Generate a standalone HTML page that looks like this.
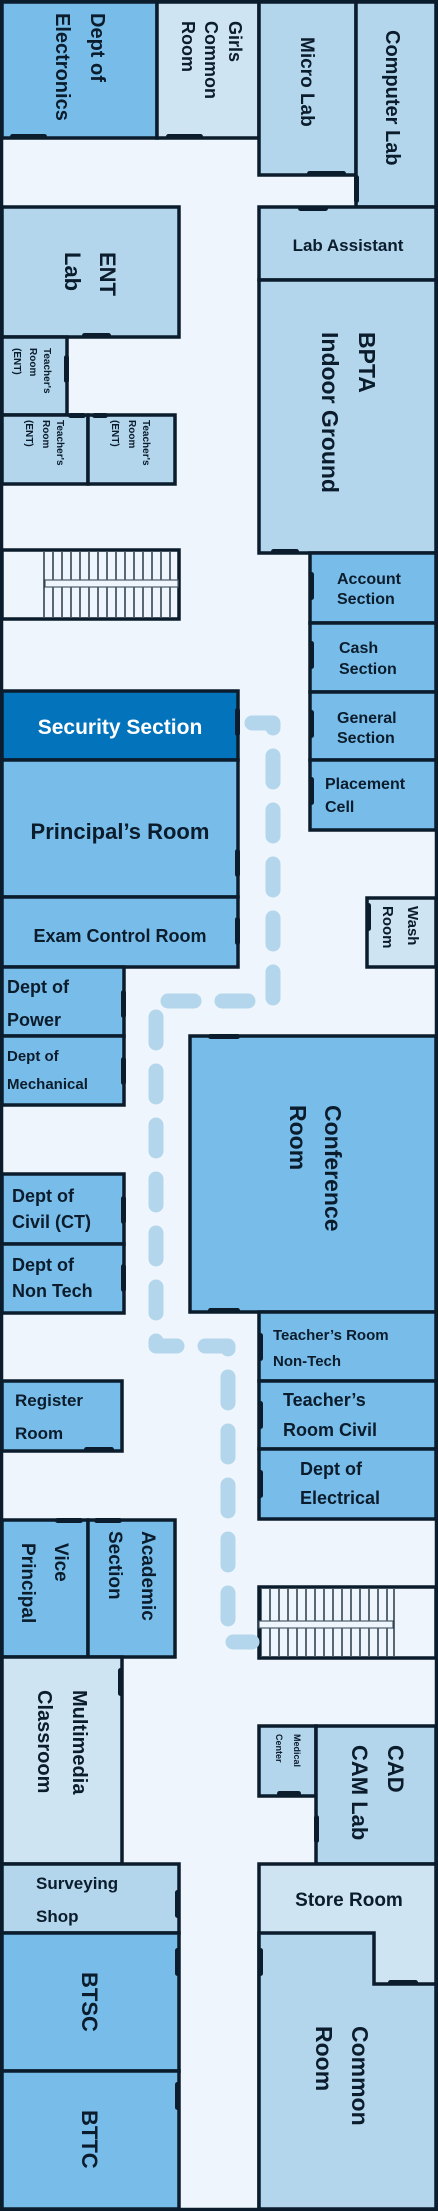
<!DOCTYPE html>
<html><head><meta charset="utf-8"><style>
html,body{margin:0;padding:0;background:#eef5fc;}
svg{display:block}
text{font-family:"Liberation Sans",sans-serif;font-weight:bold;fill:#0b1c2c}
</style></head><body>
<svg width="438" height="2211" viewBox="0 0 438 2211" xmlns="http://www.w3.org/2000/svg">
<rect x="0" y="0" width="438" height="2211" fill="#eef5fc"/>
<g stroke="#0b1c2c" stroke-width="3.5">
<!-- top -->
<rect x="2" y="2" width="155" height="136" fill="#78bde9"/>
<rect x="157" y="2" width="102" height="136" fill="#cfe4f2"/>
<rect x="259" y="2" width="97" height="173" fill="#b3d6ec"/>
<rect x="356" y="2" width="80" height="205" fill="#b3d6ec"/>
<rect x="259" y="207" width="177" height="73" fill="#b3d6ec"/>
<rect x="259" y="280" width="177" height="273" fill="#b3d6ec"/>
<rect x="2" y="207" width="177" height="130" fill="#b3d6ec"/>
<rect x="2" y="337" width="65" height="78" fill="#b3d6ec"/>
<rect x="2" y="415" width="86" height="69" fill="#b3d6ec"/>
<rect x="88" y="415" width="87" height="69" fill="#b3d6ec"/>
<!-- right offices -->
<rect x="310" y="553" width="126" height="70" fill="#78bde9"/>
<rect x="310" y="623" width="126" height="69" fill="#78bde9"/>
<rect x="310" y="692" width="126" height="68" fill="#78bde9"/>
<rect x="310" y="760" width="126" height="70" fill="#78bde9"/>
<!-- left block -->
<rect x="2" y="691" width="236" height="69" fill="#0373bb"/>
<rect x="2" y="760" width="236" height="137" fill="#78bde9"/>
<rect x="2" y="897" width="236" height="70" fill="#78bde9"/>
<rect x="367" y="898" width="69" height="69" fill="#cfe4f2"/>
<rect x="2" y="967" width="122" height="69" fill="#78bde9"/>
<rect x="2" y="1036" width="122" height="69" fill="#78bde9"/>
<rect x="190" y="1036" width="246" height="276" fill="#78bde9"/>
<rect x="2" y="1174" width="122" height="70" fill="#78bde9"/>
<rect x="2" y="1244" width="122" height="69" fill="#78bde9"/>
<rect x="259" y="1312" width="177" height="69" fill="#78bde9"/>
<rect x="259" y="1381" width="177" height="68" fill="#78bde9"/>
<rect x="259" y="1449" width="177" height="70" fill="#78bde9"/>
<rect x="2" y="1381" width="120" height="70" fill="#78bde9"/>
<rect x="2" y="1520" width="86" height="137" fill="#78bde9"/>
<rect x="88" y="1520" width="87" height="137" fill="#78bde9"/>
<!-- bottom -->
<rect x="2" y="1657" width="120" height="207" fill="#cfe4f2"/>
<rect x="259" y="1726" width="57" height="70" fill="#b3d6ec"/>
<rect x="316" y="1726" width="120" height="138" fill="#b3d6ec"/>
<rect x="2" y="1864" width="177" height="69" fill="#b3d6ec"/>
<rect x="2" y="1933" width="177" height="138" fill="#78bde9"/>
<rect x="2" y="2071" width="177" height="138" fill="#78bde9"/>
<rect x="259" y="1864" width="177" height="345" fill="#cfe4f2"/>
<path d="M259 1933 H374 V1984 H436 V2209 H259 Z" fill="#b3d6ec"/>
<!-- stairs -->
<rect x="2" y="550" width="177" height="69" fill="#eef5fc"/>
<rect x="259" y="1587" width="177" height="71" fill="#eef5fc"/>
</g>
<!-- stair treads -->
<g stroke="#0b1c2c" stroke-width="1.3">
<path d="M44 552V617M53 552V617M62 552V617M71 552V617M80 552V617M89 552V617M98 552V617M107 552V617M116 552V617M125 552V617M134 552V617M143 552V617M152 552V617M161 552V617M170 552V617"/>
<path d="M261 1589V1656M270 1589V1656M279 1589V1656M288 1589V1656M297 1589V1656M306 1589V1656M315 1589V1656M324 1589V1656M333 1589V1656M342 1589V1656M351 1589V1656M360 1589V1656M369 1589V1656M378 1589V1656M387 1589V1656M394 1589V1656"/>
</g>
<rect x="45" y="580" width="133" height="7" fill="#eef5fc" stroke="#4a5a6a" stroke-width="1.2"/>
<rect x="259" y="1621" width="134" height="7" fill="#eef5fc" stroke="#4a5a6a" stroke-width="1.2"/>
<!-- outer border -->
<rect x="1.5" y="1.5" width="435" height="2208" fill="none" stroke="#0b1c2c" stroke-width="3.5"/>
<!-- doors -->
<g fill="#0b1c2c">
<rect x="10" y="134" width="37" height="5" rx="2.5"/>
<rect x="166" y="134" width="37" height="5" rx="2.5"/>
<rect x="307" y="171" width="39" height="5" rx="2.5"/>
<rect x="354" y="175" width="5" height="28" rx="2.5"/>
<rect x="298" y="206" width="30" height="5" rx="2.5"/>
<rect x="82" y="333" width="29" height="5" rx="2.5"/>
<rect x="64" y="355" width="5" height="28" rx="2.5"/>
<rect x="68" y="413" width="18" height="5" rx="2.5"/>
<rect x="92" y="413" width="16" height="5" rx="2.5"/>
<rect x="271" y="549" width="28" height="5" rx="2.5"/>
<rect x="309" y="572" width="5" height="28" rx="2.5"/>
<rect x="309" y="641" width="5" height="28" rx="2.5"/>
<rect x="309" y="710" width="5" height="28" rx="2.5"/>
<rect x="309" y="777" width="5" height="28" rx="2.5"/>
<rect x="235" y="708" width="5" height="28" rx="2.5"/>
<rect x="235" y="849" width="5" height="28" rx="2.5"/>
<rect x="235" y="917" width="5" height="28" rx="2.5"/>
<rect x="366" y="903" width="5" height="28" rx="2.5"/>
<rect x="121" y="990" width="5" height="28" rx="2.5"/>
<rect x="121" y="1057" width="5" height="28" rx="2.5"/>
<rect x="208" y="1034" width="32" height="5" rx="2.5"/>
<rect x="121" y="1196" width="5" height="28" rx="2.5"/>
<rect x="121" y="1264" width="5" height="28" rx="2.5"/>
<rect x="208" y="1308" width="32" height="5" rx="2.5"/>
<rect x="258" y="1333" width="5" height="28" rx="2.5"/>
<rect x="258" y="1401" width="5" height="28" rx="2.5"/>
<rect x="258" y="1470" width="5" height="28" rx="2.5"/>
<rect x="84" y="1447" width="30" height="5" rx="2.5"/>
<rect x="55" y="1518" width="28" height="5" rx="2.5"/>
<rect x="94" y="1518" width="28" height="5" rx="2.5"/>
<rect x="118" y="1668" width="5" height="28" rx="2.5"/>
<rect x="277" y="1791" width="24" height="5" rx="2.5"/>
<rect x="314" y="1815" width="5" height="28" rx="2.5"/>
<rect x="175" y="1890" width="5" height="28" rx="2.5"/>
<rect x="175" y="1948" width="5" height="28" rx="2.5"/>
<rect x="175" y="2082" width="5" height="28" rx="2.5"/>
<rect x="258" y="1948" width="5" height="28" rx="2.5"/>
<rect x="388" y="1980" width="30" height="5" rx="2.5"/>
</g>
<!-- dashed path -->
<polyline points="252,723 273,723 273,1001 156,1001 156,1346 228,1346 228,1642 252,1642" fill="none" stroke="#b3d6ec" stroke-width="15" stroke-linecap="round" stroke-linejoin="round" stroke-dasharray="26 28"/>
<!-- rotated labels -->
<g>
<text transform="translate(91,13) rotate(90)" font-size="20">Dept of</text>
<text transform="translate(56,13) rotate(90)" font-size="20">Electronics</text>
<text transform="translate(229,21) rotate(90)" font-size="18">Girls</text>
<text transform="translate(205,21) rotate(90)" font-size="18">Common</text>
<text transform="translate(182,21) rotate(90)" font-size="18">Room</text>
<text transform="translate(301,37) rotate(90)" font-size="19">Micro Lab</text>
<text transform="translate(386,30) rotate(90)" font-size="20">Computer Lab</text>
<text transform="translate(100,252) rotate(90)" font-size="22">ENT</text>
<text transform="translate(65,252) rotate(90)" font-size="22">Lab</text>
<text transform="translate(44,348) rotate(90)" font-size="10">Teacher's</text>
<text transform="translate(30,348) rotate(90)" font-size="10">Room</text>
<text transform="translate(14,348) rotate(90)" font-size="10">(ENT)</text>
<text transform="translate(57,420) rotate(90)" font-size="10">Teacher's</text>
<text transform="translate(43,420) rotate(90)" font-size="10">Room</text>
<text transform="translate(26,420) rotate(90)" font-size="10">(ENT)</text>
<text transform="translate(143,420) rotate(90)" font-size="10">Teacher's</text>
<text transform="translate(129,420) rotate(90)" font-size="10">Room</text>
<text transform="translate(112,420) rotate(90)" font-size="10">(ENT)</text>
<text transform="translate(359,332) rotate(90)" font-size="23">BPTA</text>
<text transform="translate(322,332) rotate(90)" font-size="23">Indoor Ground</text>
<text transform="translate(408,906) rotate(90)" font-size="15">Wash</text>
<text transform="translate(383,906) rotate(90)" font-size="15">Room</text>
<text transform="translate(325,1105) rotate(90)" font-size="23">Conference</text>
<text transform="translate(290,1105) rotate(90)" font-size="23">Room</text>
<text transform="translate(55,1543) rotate(90)" font-size="19">Vice</text>
<text transform="translate(22,1543) rotate(90)" font-size="19">Principal</text>
<text transform="translate(142,1531) rotate(90)" font-size="19">Academic</text>
<text transform="translate(109,1531) rotate(90)" font-size="19">Section</text>
<text transform="translate(73,1690) rotate(90)" font-size="20">Multimedia</text>
<text transform="translate(38,1690) rotate(90)" font-size="20">Classroom</text>
<text transform="translate(294,1734) rotate(90)" font-size="9">Medical</text>
<text transform="translate(276,1734) rotate(90)" font-size="9">Center</text>
<text transform="translate(388,1745) rotate(90)" font-size="22">CAD</text>
<text transform="translate(352,1745) rotate(90)" font-size="22">CAM Lab</text>
<text transform="translate(82,1972) rotate(90)" font-size="22">BTSC</text>
<text transform="translate(82,2110) rotate(90)" font-size="22">BTTC</text>
<text transform="translate(352,2026) rotate(90)" font-size="23">Common</text>
<text transform="translate(316,2026) rotate(90)" font-size="23">Room</text>
</g>
<!-- horizontal labels -->
<text x="348" y="251" font-size="17" text-anchor="middle">Lab Assistant</text>
<text x="337" y="584" font-size="16">Account</text>
<text x="337" y="604" font-size="16">Section</text>
<text x="339" y="653" font-size="16">Cash</text>
<text x="339" y="674" font-size="16">Section</text>
<text x="337" y="723" font-size="16">General</text>
<text x="337" y="743" font-size="16">Section</text>
<text x="325" y="789" font-size="16">Placement</text>
<text x="325" y="812" font-size="16">Cell</text>
<text x="120" y="734" font-size="21" text-anchor="middle" style="fill:#fff">Security Section</text>
<text x="120" y="839" font-size="22" text-anchor="middle">Principal’s Room</text>
<text x="120" y="942" font-size="18" text-anchor="middle">Exam Control Room</text>
<text x="7" y="993" font-size="18">Dept of</text>
<text x="7" y="1026" font-size="18">Power</text>
<text x="7" y="1061" font-size="15">Dept of</text>
<text x="7" y="1089" font-size="15">Mechanical</text>
<text x="12" y="1202" font-size="18">Dept of</text>
<text x="12" y="1228" font-size="18">Civil (CT)</text>
<text x="12" y="1271" font-size="18">Dept of</text>
<text x="12" y="1297" font-size="18">Non Tech</text>
<text x="15" y="1406" font-size="17">Register</text>
<text x="15" y="1439" font-size="17">Room</text>
<text x="273" y="1340" font-size="15">Teacher’s Room</text>
<text x="273" y="1366" font-size="15">Non-Tech</text>
<text x="283" y="1406" font-size="18">Teacher’s</text>
<text x="283" y="1436" font-size="18">Room Civil</text>
<text x="300" y="1475" font-size="18">Dept of</text>
<text x="300" y="1504" font-size="18">Electrical</text>
<text x="36" y="1889" font-size="17">Surveying</text>
<text x="36" y="1922" font-size="17">Shop</text>
<text x="349" y="1906" font-size="19" text-anchor="middle">Store Room</text>
</svg>
</body></html>
